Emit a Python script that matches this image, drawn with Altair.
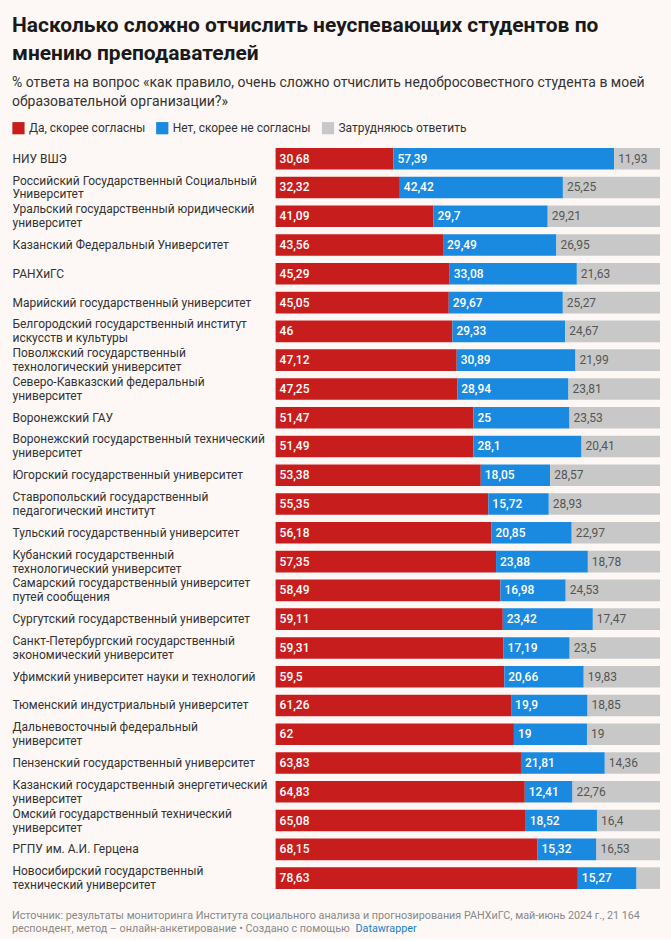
import altair as alt
import pandas as pd

universities = [
    "НИУ ВШЭ",
    "Российский Государственный Социальный|Университет",
    "Уральский государственный юридический|университет",
    "Казанский Федеральный Университет",
    "РАНХиГС",
    "Марийский государственный университет",
    "Белгородский государственный институт|искусств и культуры",
    "Поволжский государственный|технологический университет",
    "Северо-Кавказский федеральный|университет",
    "Воронежский ГАУ",
    "Воронежский государственный технический|университет",
    "Югорский государственный университет",
    "Ставропольский государственный|педагогический институт",
    "Тульский государственный университет",
    "Кубанский государственный|технологический университет",
    "Самарский государственный университет|путей сообщения",
    "Сургутский государственный университет",
    "Санкт-Петербургский государственный|экономический университет",
    "Уфимский университет науки и технологий",
    "Тюменский индустриальный университет",
    "Дальневосточный федеральный|университет",
    "Пензенский государственный университет",
    "Казанский государственный энергетический|университет",
    "Омский государственный технический|университет",
    "РГПУ им. А.И. Герцена",
    "Новосибирский государственный|технический университет",
]
agree = [30.68, 32.32, 41.09, 43.56, 45.29, 45.05, 46, 47.12, 47.25, 51.47, 51.49, 53.38, 55.35,
         56.18, 57.35, 58.49, 59.11, 59.31, 59.5, 61.26, 62, 63.83, 64.83, 65.08, 68.15, 78.63]
disagree = [57.39, 42.42, 29.7, 29.49, 33.08, 29.67, 29.33, 30.89, 28.94, 25, 28.1, 18.05, 15.72,
            20.85, 23.88, 16.98, 23.42, 17.19, 20.66, 19.9, 19, 21.81, 12.41, 18.52, 15.32, 15.27]
unsure = [11.93, 25.25, 29.21, 26.95, 21.63, 25.27, 24.67, 21.99, 23.81, 23.53, 20.41, 28.57, 28.93,
          22.97, 18.78, 24.53, 17.47, 23.5, 19.83, 18.85, 19, 14.36, 22.76, 16.4, 16.53, 6.1]

series = ["Да, скорее согласны", "Нет, скорее не согласны", "Затрудняюсь ответить"]
colors = ["#c71e1d", "#1a8ae0", "#c8c8c8"]

title_lines = ["Насколько сложно отчислить неуспевающих студентов по", "мнению преподавателей"]
subtitle_lines = ["% ответа на вопрос «как правило, очень сложно отчислить недобросовестного студента в моей",
                  "образовательной организации?»"]
footer1 = "Источник: результаты мониторинга Института социального анализа и прогнозирования РАНХиГС, май-июнь 2024 г., 21 164"
footer2 = "респондент, метод – онлайн-анкетирование • Создано с помощью"
footer_link = "Datawrapper"

rows = []
for i, u in enumerate(universities):
    for k, vals in enumerate([agree, disagree, unsure]):
        v = vals[i]
        rows.append({"uni": u, "series": series[k], "k": k, "value": v,
                     "label": f"{v:g}".replace(".", ",")})
df = pd.DataFrame(rows)

FONT = "Roboto"
W, H = 385, 749

base = alt.Chart(df).transform_stack(
    stack="value", groupby=["uni"], sort=[alt.SortField("k", order="ascending")], as_=["x0", "x1"]
)

y = alt.Y(
    "uni:N", sort=universities, title=None,
    scale=alt.Scale(paddingInner=0.25, paddingOuter=0.12),
    axis=alt.Axis(labelAlign="left", labelPadding=264, labelBaseline="middle", labelLimit=262,
                  labelFontSize=12, labelColor="#333333", labelFont=FONT, labelLineHeight=14,
                  labelOffset={"condition": {"test": "indexof(datum.value, '|') >= 0", "value": -7},
                               "value": 0},
                  labelExpr="split(datum.label, '|')", ticks=False, domain=False, grid=False),
)
x = alt.X("x0:Q", scale=alt.Scale(domain=[0, 100], nice=False), axis=None)

bars = base.mark_bar().encode(
    x=x, x2="x1:Q", y=y,
    color=alt.Color("series:N", scale=alt.Scale(domain=series, range=colors),
                    legend=alt.Legend(title=None, orient="none", legendX=-264, legendY=-23,
                                      direction="horizontal", symbolType="square", symbolSize=150,
                                      symbolStrokeWidth=0, symbolOpacity=1, labelFontSize=12,
                                      labelFont=FONT, labelColor="#333333", columnPadding=10,
                                      labelOffset=4)),
)

txt_white = base.transform_filter("datum.k < 2").mark_text(
    align="left", baseline="middle", dx=4, color="white", fontSize=12, font=FONT, fontWeight=500
).encode(x="x0:Q", y=y, text="label:N")

txt_gray = base.transform_filter("datum.k == 2 && datum.value > 10").mark_text(
    align="left", baseline="middle", dx=4, color="#555555", fontSize=12, font=FONT
).encode(x="x0:Q", y=y, text="label:N")

f1 = alt.Chart(pd.DataFrame({"t": [footer1]})).mark_text(
    align="left", baseline="alphabetic", fontSize=10.8, color="#888888", font=FONT
).encode(x=alt.value(-264), y=alt.value(H + 27), text="t:N")
f2 = alt.Chart(pd.DataFrame({"t": [footer2]})).mark_text(
    align="left", baseline="alphabetic", fontSize=10.8, color="#888888", font=FONT
).encode(x=alt.value(-264), y=alt.value(H + 40), text="t:N")
f3 = alt.Chart(pd.DataFrame({"t": [footer_link]})).mark_text(
    align="left", baseline="alphabetic", fontSize=10.8, color="#1a7fc9", font=FONT
).encode(x=alt.value(80), y=alt.value(H + 40), text="t:N")

chart = alt.layer(bars, txt_white, txt_gray, f1, f2, f3).properties(
    width=W, height=H,
    padding={"left": 12, "top": 14, "right": 10, "bottom": 4},
    background="#fdf8f6",
    title=alt.Title(text=title_lines, subtitle=subtitle_lines, anchor="start", frame="bounds",
                    fontSize=21, fontWeight="bold", color="#1a1a1a", font=FONT, lineHeight=28,
                    subtitleFont=FONT, subtitleFontSize=14, subtitleColor="#333333",
                    subtitleLineHeight=19, subtitlePadding=12, offset=13),
).configure_view(stroke=None)

chart.save("out.html", embed_options={"renderer": "svg", "actions": False})
